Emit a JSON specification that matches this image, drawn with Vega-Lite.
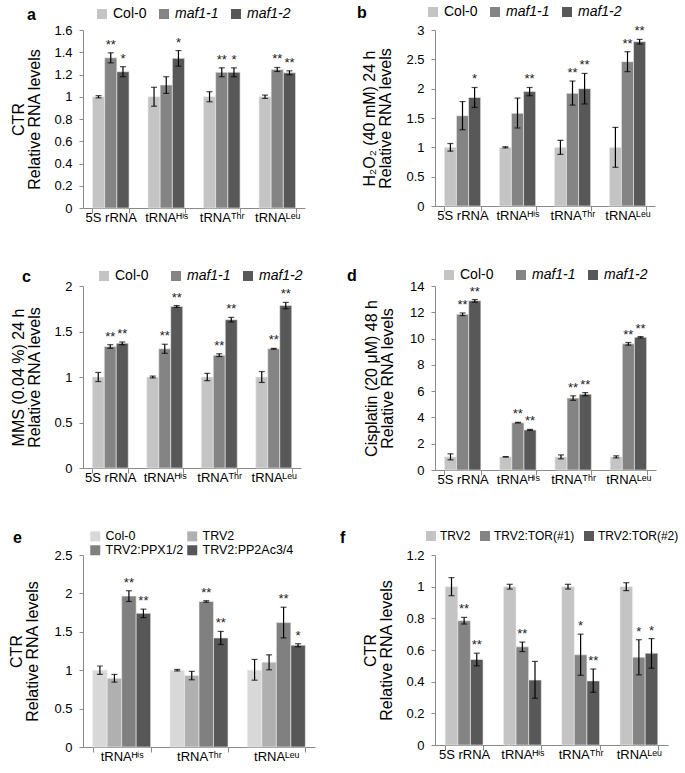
{
  "$schema": "https://vega.github.io/schema/vega-lite/v6.json",
  "background": "white",
  "padding": {"left": 8, "top": 5, "right": 3, "bottom": 3},
  "datasets": {
    "a": [
      {"gene": "5S rRNA", "group": "Col-0", "value": 1.0, "lo": 0.99, "hi": 1.01, "sig": ""},
      {"gene": "5S rRNA", "group": "maf1-1", "value": 1.35, "lo": 1.305, "hi": 1.395, "sig": "**"},
      {"gene": "5S rRNA", "group": "maf1-2", "value": 1.225, "lo": 1.18, "hi": 1.27, "sig": "*"},
      {"gene": "tRNAᴴⁱˢ", "group": "Col-0", "value": 1.0, "lo": 0.915, "hi": 1.085, "sig": ""},
      {"gene": "tRNAᴴⁱˢ", "group": "maf1-1", "value": 1.105, "lo": 1.03, "hi": 1.18, "sig": ""},
      {"gene": "tRNAᴴⁱˢ", "group": "maf1-2", "value": 1.345, "lo": 1.275, "hi": 1.415, "sig": "*"},
      {"gene": "tRNAᵀʰʳ", "group": "Col-0", "value": 1.0, "lo": 0.955, "hi": 1.045, "sig": ""},
      {"gene": "tRNAᵀʰʳ", "group": "maf1-1", "value": 1.22, "lo": 1.18, "hi": 1.26, "sig": "**"},
      {"gene": "tRNAᵀʰʳ", "group": "maf1-2", "value": 1.22, "lo": 1.18, "hi": 1.26, "sig": "*"},
      {"gene": "tRNAᴸᵉᵘ", "group": "Col-0", "value": 1.0, "lo": 0.985, "hi": 1.015, "sig": ""},
      {"gene": "tRNAᴸᵉᵘ", "group": "maf1-1", "value": 1.245, "lo": 1.227, "hi": 1.263, "sig": "**"},
      {"gene": "tRNAᴸᵉᵘ", "group": "maf1-2", "value": 1.215, "lo": 1.197, "hi": 1.233, "sig": "**"}
    ],
    "b": [
      {"gene": "5S rRNA", "group": "Col-0", "value": 1.0, "lo": 0.935, "hi": 1.065, "sig": ""},
      {"gene": "5S rRNA", "group": "maf1-1", "value": 1.54, "lo": 1.3, "hi": 1.78, "sig": ""},
      {"gene": "5S rRNA", "group": "maf1-2", "value": 1.85, "lo": 1.68, "hi": 2.02, "sig": "*"},
      {"gene": "tRNAᴴⁱˢ", "group": "Col-0", "value": 1.0, "lo": 0.99, "hi": 1.01, "sig": ""},
      {"gene": "tRNAᴴⁱˢ", "group": "maf1-1", "value": 1.58, "lo": 1.33, "hi": 1.84, "sig": ""},
      {"gene": "tRNAᴴⁱˢ", "group": "maf1-2", "value": 1.95, "lo": 1.88, "hi": 2.02, "sig": "**"},
      {"gene": "tRNAᵀʰʳ", "group": "Col-0", "value": 1.0, "lo": 0.88, "hi": 1.12, "sig": ""},
      {"gene": "tRNAᵀʰʳ", "group": "maf1-1", "value": 1.92, "lo": 1.72, "hi": 2.13, "sig": "**"},
      {"gene": "tRNAᵀʰʳ", "group": "maf1-2", "value": 2.0, "lo": 1.74, "hi": 2.26, "sig": "**"},
      {"gene": "tRNAᴸᵉᵘ", "group": "Col-0", "value": 1.0, "lo": 0.66, "hi": 1.34, "sig": ""},
      {"gene": "tRNAᴸᵉᵘ", "group": "maf1-1", "value": 2.46, "lo": 2.29, "hi": 2.63, "sig": "**"},
      {"gene": "tRNAᴸᵉᵘ", "group": "maf1-2", "value": 2.8, "lo": 2.76, "hi": 2.84, "sig": "**"}
    ],
    "c": [
      {"gene": "5S rRNA", "group": "Col-0", "value": 1.0, "lo": 0.95, "hi": 1.05, "sig": ""},
      {"gene": "5S rRNA", "group": "maf1-1", "value": 1.335, "lo": 1.315, "hi": 1.355, "sig": "**"},
      {"gene": "5S rRNA", "group": "maf1-2", "value": 1.37, "lo": 1.355, "hi": 1.385, "sig": "**"},
      {"gene": "tRNAᴴⁱˢ", "group": "Col-0", "value": 1.0, "lo": 0.99, "hi": 1.01, "sig": ""},
      {"gene": "tRNAᴴⁱˢ", "group": "maf1-1", "value": 1.31, "lo": 1.26, "hi": 1.36, "sig": "**"},
      {"gene": "tRNAᴴⁱˢ", "group": "maf1-2", "value": 1.775, "lo": 1.765, "hi": 1.785, "sig": "**"},
      {"gene": "tRNAᵀʰʳ", "group": "Col-0", "value": 1.0, "lo": 0.96, "hi": 1.04, "sig": ""},
      {"gene": "tRNAᵀʰʳ", "group": "maf1-1", "value": 1.24, "lo": 1.225, "hi": 1.255, "sig": "**"},
      {"gene": "tRNAᵀʰʳ", "group": "maf1-2", "value": 1.63, "lo": 1.605, "hi": 1.655, "sig": "**"},
      {"gene": "tRNAᴸᵉᵘ", "group": "Col-0", "value": 1.0, "lo": 0.94, "hi": 1.06, "sig": ""},
      {"gene": "tRNAᴸᵉᵘ", "group": "maf1-1", "value": 1.31, "lo": 1.305, "hi": 1.315, "sig": "**"},
      {"gene": "tRNAᴸᵉᵘ", "group": "maf1-2", "value": 1.785, "lo": 1.75, "hi": 1.82, "sig": "**"}
    ],
    "d": [
      {"gene": "5S rRNA", "group": "Col-0", "value": 1.0, "lo": 0.77, "hi": 1.23, "sig": ""},
      {"gene": "5S rRNA", "group": "maf1-1", "value": 11.85, "lo": 11.75, "hi": 11.95, "sig": "**"},
      {"gene": "5S rRNA", "group": "maf1-2", "value": 12.87, "lo": 12.77, "hi": 12.97, "sig": "**"},
      {"gene": "tRNAᴴⁱˢ", "group": "Col-0", "value": 1.0, "lo": 0.98, "hi": 1.02, "sig": ""},
      {"gene": "tRNAᴴⁱˢ", "group": "maf1-1", "value": 3.6, "lo": 3.57, "hi": 3.63, "sig": "**"},
      {"gene": "tRNAᴴⁱˢ", "group": "maf1-2", "value": 3.05, "lo": 3.01, "hi": 3.09, "sig": "**"},
      {"gene": "tRNAᵀʰʳ", "group": "Col-0", "value": 1.0, "lo": 0.85, "hi": 1.15, "sig": ""},
      {"gene": "tRNAᵀʰʳ", "group": "maf1-1", "value": 5.47, "lo": 5.3, "hi": 5.64, "sig": "**"},
      {"gene": "tRNAᵀʰʳ", "group": "maf1-2", "value": 5.77, "lo": 5.65, "hi": 5.89, "sig": "**"},
      {"gene": "tRNAᴸᵉᵘ", "group": "Col-0", "value": 1.0, "lo": 0.92, "hi": 1.08, "sig": ""},
      {"gene": "tRNAᴸᵉᵘ", "group": "maf1-1", "value": 9.6, "lo": 9.5, "hi": 9.7, "sig": "**"},
      {"gene": "tRNAᴸᵉᵘ", "group": "maf1-2", "value": 10.1, "lo": 10.05, "hi": 10.15, "sig": "**"}
    ],
    "e": [
      {"gene": "tRNAᴴⁱˢ", "group": "Col-0", "value": 1.0, "lo": 0.945, "hi": 1.055, "sig": ""},
      {"gene": "tRNAᴴⁱˢ", "group": "TRV2", "value": 0.895, "lo": 0.845, "hi": 0.945, "sig": ""},
      {"gene": "tRNAᴴⁱˢ", "group": "TRV2:PPX1/2", "value": 1.965, "lo": 1.895, "hi": 2.035, "sig": "**"},
      {"gene": "tRNAᴴⁱˢ", "group": "TRV2:PP2Ac3/4", "value": 1.74, "lo": 1.685, "hi": 1.795, "sig": "**"},
      {"gene": "tRNAᵀʰʳ", "group": "Col-0", "value": 1.0, "lo": 0.99, "hi": 1.01, "sig": ""},
      {"gene": "tRNAᵀʰʳ", "group": "TRV2", "value": 0.93, "lo": 0.875, "hi": 0.985, "sig": ""},
      {"gene": "tRNAᵀʰʳ", "group": "TRV2:PPX1/2", "value": 1.895, "lo": 1.885, "hi": 1.905, "sig": "**"},
      {"gene": "tRNAᵀʰʳ", "group": "TRV2:PP2Ac3/4", "value": 1.42, "lo": 1.335, "hi": 1.505, "sig": "**"},
      {"gene": "tRNAᴸᵉᵘ", "group": "Col-0", "value": 1.0, "lo": 0.87, "hi": 1.14, "sig": ""},
      {"gene": "tRNAᴸᵉᵘ", "group": "TRV2", "value": 1.105, "lo": 1.005, "hi": 1.2, "sig": ""},
      {"gene": "tRNAᴸᵉᵘ", "group": "TRV2:PPX1/2", "value": 1.62, "lo": 1.42, "hi": 1.82, "sig": "**"},
      {"gene": "tRNAᴸᵉᵘ", "group": "TRV2:PP2Ac3/4", "value": 1.325, "lo": 1.305, "hi": 1.345, "sig": "*"}
    ],
    "f": [
      {"gene": "5S rRNA", "group": "TRV2", "value": 1.0, "lo": 0.943, "hi": 1.057, "sig": ""},
      {"gene": "5S rRNA", "group": "TRV2:TOR(#1)", "value": 0.785, "lo": 0.764, "hi": 0.806, "sig": "**"},
      {"gene": "5S rRNA", "group": "TRV2:TOR(#2)", "value": 0.54, "lo": 0.5, "hi": 0.58, "sig": "**"},
      {"gene": "tRNAᴴⁱˢ", "group": "TRV2", "value": 1.0, "lo": 0.985, "hi": 1.015, "sig": ""},
      {"gene": "tRNAᴴⁱˢ", "group": "TRV2:TOR(#1)", "value": 0.62, "lo": 0.59, "hi": 0.65, "sig": "**"},
      {"gene": "tRNAᴴⁱˢ", "group": "TRV2:TOR(#2)", "value": 0.41, "lo": 0.295, "hi": 0.528, "sig": ""},
      {"gene": "tRNAᵀʰʳ", "group": "TRV2", "value": 1.0, "lo": 0.985, "hi": 1.015, "sig": ""},
      {"gene": "tRNAᵀʰʳ", "group": "TRV2:TOR(#1)", "value": 0.57, "lo": 0.44, "hi": 0.7, "sig": "*"},
      {"gene": "tRNAᵀʰʳ", "group": "TRV2:TOR(#2)", "value": 0.405, "lo": 0.333, "hi": 0.48, "sig": "**"},
      {"gene": "tRNAᴸᵉᵘ", "group": "TRV2", "value": 1.0, "lo": 0.975, "hi": 1.025, "sig": ""},
      {"gene": "tRNAᴸᵉᵘ", "group": "TRV2:TOR(#1)", "value": 0.555, "lo": 0.443, "hi": 0.665, "sig": "*"},
      {"gene": "tRNAᴸᵉᵘ", "group": "TRV2:TOR(#2)", "value": 0.58, "lo": 0.485, "hi": 0.672, "sig": "*"}
    ]
  },
  "columns": 2,
  "spacing": {"row": 44, "column": 25},
  "resolve": {
    "scale": {"x": "independent", "y": "independent", "xOffset": "independent", "color": "independent"},
    "axis": {"x": "independent", "y": "independent"},
    "legend": {"color": "independent"}
  },
  "concat": [
    {
      "width": 222, "height": 178,
      "data": {"name": "a"},
      "encoding": {
        "x": {"field": "gene", "type": "nominal", "sort": null, "scale": {"paddingInner": 0.34, "paddingOuter": 0.17}},
        "xOffset": {"field": "group", "type": "nominal", "sort": null, "scale": {"paddingInner": 0}}
      },
      "layer": [
        {"mark": {"type": "bar", "stroke": "#eeeeee", "strokeWidth": 0.6},
         "encoding": {
           "y": {"field": "value", "type": "quantitative", "scale": {"domain": [0, 1.6], "nice": false},
                 "axis": {"values": [0, 0.2, 0.4, 0.6, 0.8, 1, 1.2, 1.4, 1.6], "title": ["CTR", "Relative RNA levels"], "titlePadding": 11}},
           "color": {"field": "group", "type": "nominal", "scale": {"domain": ["Col-0", "maf1-1", "maf1-2"], "range": ["#c4c4c4", "#848484", "#585858"]},
                     "legend": {"orient": "none", "legendX": -56, "legendY": -23, "gridAlign": "each", "title": "a", "titleOrient": "left", "titlePadding": 59,
                                "labelFontStyle": {"expr": "datum.value == 'Col-0' ? 'normal' : 'italic'"}}}
         }},
        {"mark": {"type": "rule", "color": "black", "strokeWidth": 1.2}, "encoding": {"y": {"field": "lo", "type": "quantitative", "axis": {"values": [0, 0.2, 0.4, 0.6, 0.8, 1, 1.2, 1.4, 1.6], "title": ["CTR", "Relative RNA levels"], "titlePadding": 11}}, "y2": {"field": "hi"}}},
        {"mark": {"type": "tick", "orient": "horizontal", "color": "black", "size": 6, "thickness": 1.2}, "encoding": {"y": {"field": "lo", "type": "quantitative", "axis": {"values": [0, 0.2, 0.4, 0.6, 0.8, 1, 1.2, 1.4, 1.6], "title": ["CTR", "Relative RNA levels"], "titlePadding": 11}}}},
        {"mark": {"type": "tick", "orient": "horizontal", "color": "black", "size": 6, "thickness": 1.2}, "encoding": {"y": {"field": "hi", "type": "quantitative", "axis": {"values": [0, 0.2, 0.4, 0.6, 0.8, 1, 1.2, 1.4, 1.6], "title": ["CTR", "Relative RNA levels"], "titlePadding": 11}}}},
        {"mark": {"type": "text", "baseline": "bottom", "dy": -1, "fontSize": 13, "color": "#222"}, "encoding": {"y": {"field": "hi", "type": "quantitative", "axis": {"values": [0, 0.2, 0.4, 0.6, 0.8, 1, 1.2, 1.4, 1.6], "title": ["CTR", "Relative RNA levels"], "titlePadding": 11}}, "text": {"field": "sig"}}}
      ]
    },
    {
      "width": 220, "height": 176,
      "data": {"name": "b"},
      "encoding": {
        "x": {"field": "gene", "type": "nominal", "sort": null, "scale": {"paddingInner": 0.34, "paddingOuter": 0.17}},
        "xOffset": {"field": "group", "type": "nominal", "sort": null, "scale": {"paddingInner": 0}}
      },
      "layer": [
        {"mark": {"type": "bar", "stroke": "#eeeeee", "strokeWidth": 0.6},
         "encoding": {
           "y": {"field": "value", "type": "quantitative", "scale": {"domain": [0, 3], "nice": false},
                 "axis": {"values": [0, 0.5, 1, 1.5, 2, 2.5, 3], "title": ["H₂O₂ (40 mM) 24 h", "Relative RNA levels"], "titlePadding": 12}},
           "color": {"field": "group", "type": "nominal", "scale": {"domain": ["Col-0", "maf1-1", "maf1-2"], "range": ["#c4c4c4", "#848484", "#585858"]},
                     "legend": {"orient": "none", "legendX": -78, "legendY": -25, "gridAlign": "each", "title": "b", "titleOrient": "left", "titlePadding": 59,
                                "labelFontStyle": {"expr": "datum.value == 'Col-0' ? 'normal' : 'italic'"}}}
         }},
        {"mark": {"type": "rule", "color": "black", "strokeWidth": 1.2}, "encoding": {"y": {"field": "lo", "type": "quantitative", "axis": {"values": [0, 0.5, 1, 1.5, 2, 2.5, 3], "title": ["H₂O₂ (40 mM) 24 h", "Relative RNA levels"], "titlePadding": 12}}, "y2": {"field": "hi"}}},
        {"mark": {"type": "tick", "orient": "horizontal", "color": "black", "size": 6, "thickness": 1.2}, "encoding": {"y": {"field": "lo", "type": "quantitative", "axis": {"values": [0, 0.5, 1, 1.5, 2, 2.5, 3], "title": ["H₂O₂ (40 mM) 24 h", "Relative RNA levels"], "titlePadding": 12}}}},
        {"mark": {"type": "tick", "orient": "horizontal", "color": "black", "size": 6, "thickness": 1.2}, "encoding": {"y": {"field": "hi", "type": "quantitative", "axis": {"values": [0, 0.5, 1, 1.5, 2, 2.5, 3], "title": ["H₂O₂ (40 mM) 24 h", "Relative RNA levels"], "titlePadding": 12}}}},
        {"mark": {"type": "text", "baseline": "bottom", "dy": -1, "fontSize": 13, "color": "#222"}, "encoding": {"y": {"field": "hi", "type": "quantitative", "axis": {"values": [0, 0.5, 1, 1.5, 2, 2.5, 3], "title": ["H₂O₂ (40 mM) 24 h", "Relative RNA levels"], "titlePadding": 12}}, "text": {"field": "sig"}}}
      ]
    },
    {
      "width": 218, "height": 182,
      "data": {"name": "c"},
      "encoding": {
        "x": {"field": "gene", "type": "nominal", "sort": null, "scale": {"paddingInner": 0.34, "paddingOuter": 0.17}},
        "xOffset": {"field": "group", "type": "nominal", "sort": null, "scale": {"paddingInner": 0}}
      },
      "layer": [
        {"mark": {"type": "bar", "stroke": "#eeeeee", "strokeWidth": 0.6},
         "encoding": {
           "y": {"field": "value", "type": "quantitative", "scale": {"domain": [0, 2], "nice": false},
                 "axis": {"values": [0, 0.5, 1, 1.5, 2], "title": ["MMS (0.04 %) 24 h", "Relative RNA levels"], "titlePadding": 11}},
           "color": {"field": "group", "type": "nominal", "scale": {"domain": ["Col-0", "maf1-1", "maf1-2"], "range": ["#c4c4c4", "#848484", "#585858"]},
                     "legend": {"orient": "none", "legendX": -61, "legendY": -17, "gridAlign": "all", "title": "c", "titleOrient": "left", "titlePadding": 66,
                                "labelFontStyle": {"expr": "datum.value == 'Col-0' ? 'normal' : 'italic'"}}}
         }},
        {"mark": {"type": "rule", "color": "black", "strokeWidth": 1.2}, "encoding": {"y": {"field": "lo", "type": "quantitative", "axis": {"values": [0, 0.5, 1, 1.5, 2], "title": ["MMS (0.04 %) 24 h", "Relative RNA levels"], "titlePadding": 11}}, "y2": {"field": "hi"}}},
        {"mark": {"type": "tick", "orient": "horizontal", "color": "black", "size": 6, "thickness": 1.2}, "encoding": {"y": {"field": "lo", "type": "quantitative", "axis": {"values": [0, 0.5, 1, 1.5, 2], "title": ["MMS (0.04 %) 24 h", "Relative RNA levels"], "titlePadding": 11}}}},
        {"mark": {"type": "tick", "orient": "horizontal", "color": "black", "size": 6, "thickness": 1.2}, "encoding": {"y": {"field": "hi", "type": "quantitative", "axis": {"values": [0, 0.5, 1, 1.5, 2], "title": ["MMS (0.04 %) 24 h", "Relative RNA levels"], "titlePadding": 11}}}},
        {"mark": {"type": "text", "baseline": "bottom", "dy": -1, "fontSize": 13, "color": "#222"}, "encoding": {"y": {"field": "hi", "type": "quantitative", "axis": {"values": [0, 0.5, 1, 1.5, 2], "title": ["MMS (0.04 %) 24 h", "Relative RNA levels"], "titlePadding": 11}}, "text": {"field": "sig"}}}
      ]
    },
    {
      "width": 221, "height": 184,
      "data": {"name": "d"},
      "encoding": {
        "x": {"field": "gene", "type": "nominal", "sort": null, "scale": {"paddingInner": 0.34, "paddingOuter": 0.17}},
        "xOffset": {"field": "group", "type": "nominal", "sort": null, "scale": {"paddingInner": 0}}
      },
      "layer": [
        {"mark": {"type": "bar", "stroke": "#eeeeee", "strokeWidth": 0.6},
         "encoding": {
           "y": {"field": "value", "type": "quantitative", "scale": {"domain": [0, 14], "nice": false},
                 "axis": {"values": [0, 2, 4, 6, 8, 10, 12, 14], "title": ["Cisplatin (20 μM) 48 h", "Relative RNA levels"], "titlePadding": 14}},
           "color": {"field": "group", "type": "nominal", "scale": {"domain": ["Col-0", "maf1-1", "maf1-2"], "range": ["#c4c4c4", "#848484", "#585858"]},
                     "legend": {"orient": "none", "legendX": -88, "legendY": -18, "gridAlign": "all", "title": "d", "titleOrient": "left", "titlePadding": 85,
                                "labelFontStyle": {"expr": "datum.value == 'Col-0' ? 'normal' : 'italic'"}}}
         }},
        {"mark": {"type": "rule", "color": "black", "strokeWidth": 1.2}, "encoding": {"y": {"field": "lo", "type": "quantitative", "axis": {"values": [0, 2, 4, 6, 8, 10, 12, 14], "title": ["Cisplatin (20 μM) 48 h", "Relative RNA levels"], "titlePadding": 14}}, "y2": {"field": "hi"}}},
        {"mark": {"type": "tick", "orient": "horizontal", "color": "black", "size": 6, "thickness": 1.2}, "encoding": {"y": {"field": "lo", "type": "quantitative", "axis": {"values": [0, 2, 4, 6, 8, 10, 12, 14], "title": ["Cisplatin (20 μM) 48 h", "Relative RNA levels"], "titlePadding": 14}}}},
        {"mark": {"type": "tick", "orient": "horizontal", "color": "black", "size": 6, "thickness": 1.2}, "encoding": {"y": {"field": "hi", "type": "quantitative", "axis": {"values": [0, 2, 4, 6, 8, 10, 12, 14], "title": ["Cisplatin (20 μM) 48 h", "Relative RNA levels"], "titlePadding": 14}}}},
        {"mark": {"type": "text", "baseline": "bottom", "dy": -1, "fontSize": 13, "color": "#222"}, "encoding": {"y": {"field": "hi", "type": "quantitative", "axis": {"values": [0, 2, 4, 6, 8, 10, 12, 14], "title": ["Cisplatin (20 μM) 48 h", "Relative RNA levels"], "titlePadding": 14}}, "text": {"field": "sig"}}}
      ]
    },
    {
      "width": 232, "height": 192,
      "data": {"name": "e"},
      "encoding": {
        "x": {"field": "gene", "type": "nominal", "sort": null, "scale": {"paddingInner": 0.25, "paddingOuter": 0.125}},
        "xOffset": {"field": "group", "type": "nominal", "sort": null, "scale": {"paddingInner": 0}}
      },
      "layer": [
        {"mark": {"type": "bar", "stroke": "#eeeeee", "strokeWidth": 0.6},
         "encoding": {
           "y": {"field": "value", "type": "quantitative", "scale": {"domain": [0, 2.5], "nice": false},
                 "axis": {"values": [0, 0.5, 1, 1.5, 2, 2.5], "title": ["CTR", "Relative RNA levels"], "titlePadding": 13}},
           "color": {"field": "group", "type": "nominal", "scale": {"domain": ["Col-0", "TRV2", "TRV2:PPX1/2", "TRV2:PP2Ac3/4"], "range": ["#d8d8d8", "#b0b0b0", "#808080", "#575757"]},
                     "legend": {"orient": "none", "legendX": -70, "legendY": -25, "columns": 2, "gridAlign": "each", "rowPadding": 1, "columnPadding": 2, "labelFontSize": 12.5,
                                "title": "e", "titleOrient": "left", "titlePadding": 67,
                                "encode": {"title": {"update": {"dy": {"value": -24}}}}}}
         }},
        {"mark": {"type": "rule", "color": "black", "strokeWidth": 1.2}, "encoding": {"y": {"field": "lo", "type": "quantitative", "axis": {"values": [0, 0.5, 1, 1.5, 2, 2.5], "title": ["CTR", "Relative RNA levels"], "titlePadding": 13}}, "y2": {"field": "hi"}}},
        {"mark": {"type": "tick", "orient": "horizontal", "color": "black", "size": 6, "thickness": 1.2}, "encoding": {"y": {"field": "lo", "type": "quantitative", "axis": {"values": [0, 0.5, 1, 1.5, 2, 2.5], "title": ["CTR", "Relative RNA levels"], "titlePadding": 13}}}},
        {"mark": {"type": "tick", "orient": "horizontal", "color": "black", "size": 6, "thickness": 1.2}, "encoding": {"y": {"field": "hi", "type": "quantitative", "axis": {"values": [0, 0.5, 1, 1.5, 2, 2.5], "title": ["CTR", "Relative RNA levels"], "titlePadding": 13}}}},
        {"mark": {"type": "text", "baseline": "bottom", "dy": -1, "fontSize": 13, "color": "#222"}, "encoding": {"y": {"field": "hi", "type": "quantitative", "axis": {"values": [0, 0.5, 1, 1.5, 2, 2.5], "title": ["CTR", "Relative RNA levels"], "titlePadding": 13}}, "text": {"field": "sig"}}}
      ]
    },
    {
      "width": 233, "height": 190,
      "data": {"name": "f"},
      "encoding": {
        "x": {"field": "gene", "type": "nominal", "sort": null, "scale": {"paddingInner": 0.35, "paddingOuter": 0.175}},
        "xOffset": {"field": "group", "type": "nominal", "sort": null, "scale": {"paddingInner": 0}}
      },
      "layer": [
        {"mark": {"type": "bar", "stroke": "#eeeeee", "strokeWidth": 0.6},
         "encoding": {
           "y": {"field": "value", "type": "quantitative", "scale": {"domain": [0, 1.2], "nice": false},
                 "axis": {"tickCount": 6, "title": ["CTR", "Relative RNA levels"], "titlePadding": 11}},
           "color": {"field": "group", "type": "nominal", "scale": {"domain": ["TRV2", "TRV2:TOR(#1)", "TRV2:TOR(#2)"], "range": ["#c4c4c4", "#848484", "#585858"]},
                     "legend": {"orient": "none", "legendX": -95, "legendY": -25, "gridAlign": "each", "labelFontSize": 12, "columnPadding": 8, "labelOffset": 3,
                                "title": "f", "titleOrient": "left", "titlePadding": 79}}
         }},
        {"mark": {"type": "rule", "color": "black", "strokeWidth": 1.2}, "encoding": {"y": {"field": "lo", "type": "quantitative", "axis": {"tickCount": 6, "title": ["CTR", "Relative RNA levels"], "titlePadding": 11}}, "y2": {"field": "hi"}}},
        {"mark": {"type": "tick", "orient": "horizontal", "color": "black", "size": 6, "thickness": 1.2}, "encoding": {"y": {"field": "lo", "type": "quantitative", "axis": {"tickCount": 6, "title": ["CTR", "Relative RNA levels"], "titlePadding": 11}}}},
        {"mark": {"type": "tick", "orient": "horizontal", "color": "black", "size": 6, "thickness": 1.2}, "encoding": {"y": {"field": "hi", "type": "quantitative", "axis": {"tickCount": 6, "title": ["CTR", "Relative RNA levels"], "titlePadding": 11}}}},
        {"mark": {"type": "text", "baseline": "bottom", "dy": -1, "fontSize": 13, "color": "#222"}, "encoding": {"y": {"field": "hi", "type": "quantitative", "axis": {"tickCount": 6, "title": ["CTR", "Relative RNA levels"], "titlePadding": 11}}, "text": {"field": "sig"}}}
      ]
    }
  ],
  "config": {
    "font": "Liberation Sans",
    "view": {"stroke": null},
    "axis": {"grid": false, "labelColor": "#000", "titleColor": "#000", "domainColor": "#8a8a8a", "tickColor": "#8a8a8a", "labelFontSize": 13, "titleFontSize": 16, "titleFontWeight": "normal", "titleLineHeight": 16},
    "axisY": {"format": "~g", "labelPadding": 7, "tickSize": 4, "labelOverlap": false},
    "axisX": {"title": null, "labelAngle": 0, "tickBand": "extent", "tickSize": 5, "labelFontSize": 13, "labelPadding": -2},
    "legend": {"direction": "horizontal", "symbolType": "square", "symbolSize": 100, "symbolStrokeWidth": 0, "labelFontSize": 14, "labelColor": "#000", "columnPadding": 10, "labelOffset": 4,
               "titleFontSize": 16, "titleFontWeight": "bold", "titleColor": "#000", "titleBaseline": "top", "titleAnchor": "start"}
  }
}
